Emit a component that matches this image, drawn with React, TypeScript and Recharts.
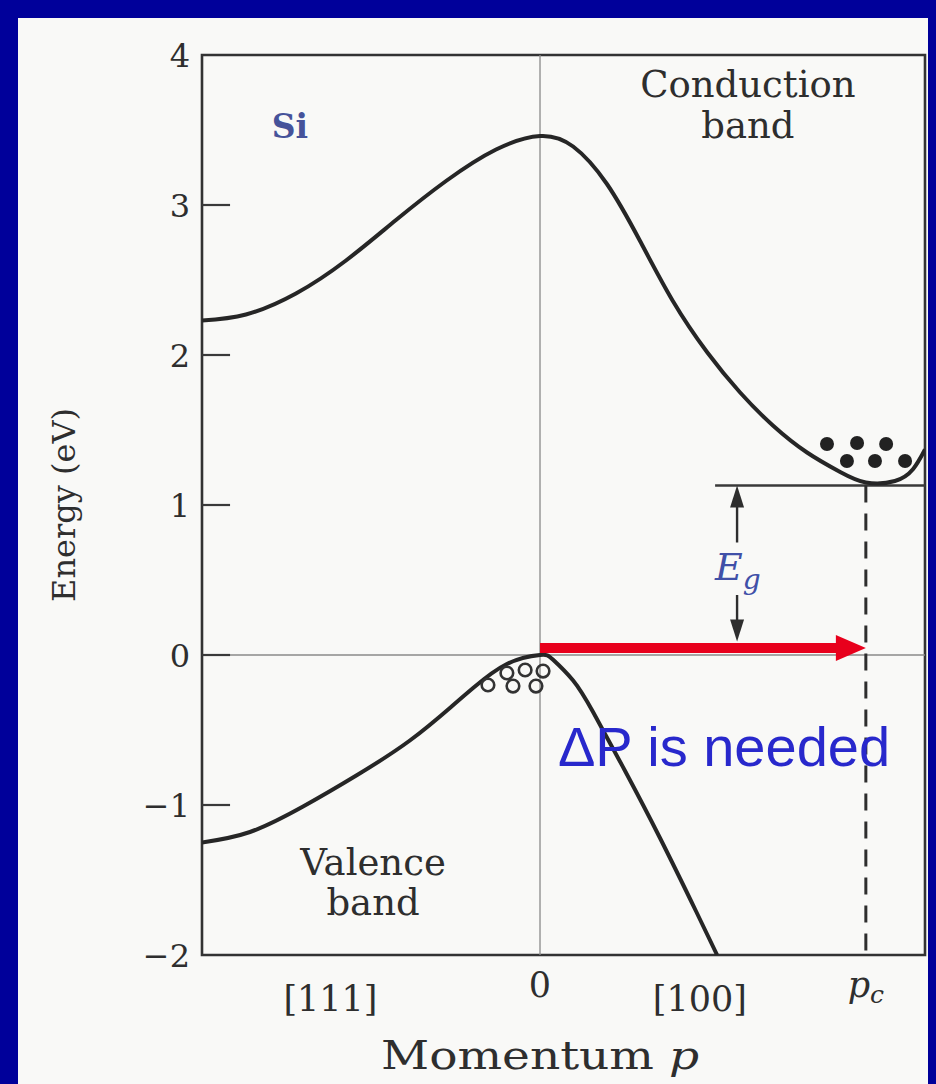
import React from 'react';
import {
  ComposedChart,
  Line,
  Scatter,
  XAxis,
  YAxis,
  ReferenceLine,
  ReferenceDot,
  ReferenceArea,
  Label,
} from 'recharts';

// ---- data (momentum in relative units, energy in eV) ----
const conductionMomentum = [-1.0, -0.87, -0.722, -0.574, -0.426, -0.278, -0.13, 0, 0.098, 0.198, 0.296, 0.393, 0.494, 0.592, 0.689, 0.79, 0.888, 0.964, 1.05, 1.104, 1.139];
const conductionEnergy = [2.23, 2.27, 2.41, 2.63, 2.9, 3.16, 3.37, 3.46, 3.39, 3.14, 2.76, 2.36, 2.02, 1.75, 1.53, 1.35, 1.22, 1.15, 1.16, 1.24, 1.37];

const valenceMomentum = [-1.0, -0.858, -0.701, -0.541, -0.385, -0.26, -0.198, -0.098, 0, 0.038, 0.098, 0.157, 0.251, 0.355, 0.462, 0.524];
const valenceEnergy = [-1.25, -1.18, -1.01, -0.8, -0.57, -0.34, -0.22, -0.06, 0, -0.03, -0.17, -0.38, -0.77, -1.22, -1.71, -2.0];

const electronMomentum = [0.849, 0.938, 1.024, 0.908, 0.991, 1.08];
const electronEnergy = [1.407, 1.413, 1.407, 1.293, 1.293, 1.293];

const holeMomentum = [-0.154, -0.098, -0.044, 0.009, -0.08, -0.012];
const holeEnergy = [-0.2, -0.12, -0.1, -0.107, -0.207, -0.207];

const yTicks = [-2, -1, 0, 1, 2, 3, 4];
const yTickLabels = ['\u22122', '\u22121', '0', '1', '2', '3', '4'];
const innerTickValues = [-1, 0, 1, 2, 3];

const xTicks = [-0.62, 0, 0.473, 0.964];
const xTickLabels = ['[111]', '0', '[100]', 'pc'];

const xDomain = [-1, 1.139];
const yDomain = [-2, 4];

const bandGap = 1.13;
const bandGapStart = 0.518;
const pc = 0.964;
const deltaPLevel = 0.047;
const deltaPLineEnd = 0.885;
const egArrowX = 0.583;
const egUpperEnd = 0.75;
const egLowerStart = 0.4;
const egLowerTip = 0.09;
const innerTickLength = 0.083;

const conduction = conductionMomentum.map((p, i) => ({ p, E: conductionEnergy[i] }));
const valence = valenceMomentum.map((p, i) => ({ p, E: valenceEnergy[i] }));
const electrons = electronMomentum.map((p, i) => ({ p, E: electronEnergy[i] }));
const holes = holeMomentum.map((p, i) => ({ p, E: holeEnergy[i] }));

const SERIF = '"DejaVu Serif", "Liberation Serif", serif';
const SANS = '"Liberation Sans", Arial, sans-serif';
const INK = '#2e2e2e';
const PAPER = '#f9f9f7';
const BORDER = '#00009a';

const YTick = (props: any) => {
  const { x, y, payload } = props;
  const idx = yTicks.indexOf(payload.value);
  return (
    <text x={x} y={y} dy="0.36em" textAnchor="end" fontFamily={SERIF} fontSize={32} fill={INK}>
      {yTickLabels[idx]}
    </text>
  );
};

const XTick = (props: any) => {
  const { x, y, payload } = props;
  const idx = xTicks.indexOf(payload.value);
  const label = xTickLabels[idx];
  if (label === 'pc') {
    return (
      <text x={x} y={y + 42} textAnchor="middle" fontFamily={SERIF} fontSize={35} fill={INK}>
        <tspan fontStyle="italic">p</tspan>
        <tspan fontStyle="italic" fontSize={25} dy={6}>c</tspan>
      </text>
    );
  }
  const dy = label === '0' ? 42 : 56;
  return (
    <text x={x} y={y + dy} textAnchor="middle" fontFamily={SERIF} fontSize={35} fill={INK}>
      {label}
    </text>
  );
};

const textShape = (lines: string[], opts: any) => (p: any) => (
  <text
    x={p.cx}
    y={p.cy}
    textAnchor={opts.anchor || 'middle'}
    fontFamily={opts.family || SERIF}
    fontSize={opts.size}
    fontWeight={opts.weight || 'normal'}
    fill={opts.color || INK}
  >
    {lines.map((l, i) => (
      <tspan key={i} x={p.cx} dy={i === 0 ? 0 : opts.lineGap}>
        {l}
      </tspan>
    ))}
  </text>
);

const egLabelShape = (p: any) => (
  <text x={p.cx} y={p.cy} fontFamily={SERIF} fill="#4050a8">
    <tspan fontStyle="italic" fontSize={38}>E</tspan>
    <tspan fontStyle="italic" fontSize={28} dy={9}>g</tspan>
  </text>
);

const momentumLabelShape = (p: any) => (
  <text
    x={p.cx}
    y={p.cy + 114}
    textAnchor="middle"
    fontFamily={SERIF}
    fontSize={40}
    textLength={318}
    lengthAdjust="spacingAndGlyphs"
    fill={INK}
  >
    Momentum <tspan fontStyle="italic">p</tspan>
  </text>
);

const redHead = (p: any) => (
  <polygon
    points={`${p.cx},${p.cy} ${p.cx - 30},${p.cy - 13} ${p.cx - 30},${p.cy + 13}`}
    fill="#e8001c"
  />
);

const upHead = (p: any) => (
  <polygon points={`${p.cx},${p.cy} ${p.cx - 7},${p.cy + 22} ${p.cx + 7},${p.cy + 22}`} fill={INK} />
);

const downHead = (p: any) => (
  <polygon points={`${p.cx},${p.cy} ${p.cx - 7},${p.cy - 22} ${p.cx + 7},${p.cy - 22}`} fill={INK} />
);

const electronShape = (p: any) => <circle cx={p.cx} cy={p.cy} r={7} fill="#222" />;
const holeShape = (p: any) => (
  <circle cx={p.cx} cy={p.cy} r={6.3} fill="none" stroke="#333" strokeWidth={2.6} />
);

export default function App() {
  return (
    <div
      style={{
        position: 'absolute',
        left: 0,
        top: 0,
        width: 936,
        height: 1084,
        background: BORDER,
        overflow: 'hidden',
      }}
    >
      <div
        style={{
          position: 'absolute',
          left: 18,
          top: 18,
          width: 910,
          height: 1066,
          background: PAPER,
        }}
      />
      <div style={{ position: 'absolute', left: 0, top: 0 }}>
        <ComposedChart width={936} height={1084} margin={{ top: 55, right: 11, bottom: 0, left: 122 }}>
          <XAxis
            type="number"
            dataKey="p"
            domain={xDomain}
            ticks={xTicks}
            tick={<XTick />}
            tickLine={false}
            axisLine={false}
            tickSize={0}
            tickMargin={0}
            height={129}
            interval={0}
            allowDataOverflow
          />
          <YAxis
            type="number"
            domain={yDomain}
            ticks={yTicks}
            tick={<YTick />}
            tickLine={false}
            axisLine={false}
            tickSize={0}
            tickMargin={12}
            width={80}
            interval={0}
            allowDataOverflow
          >
            <Label
              content={(props: any) => {
                const vb = props.viewBox;
                const cx = vb.x - 58;
                const cy = vb.y + vb.height / 2;
                return (
                  <text
                    x={cx}
                    y={cy}
                    transform={`rotate(-90 ${cx} ${cy})`}
                    textAnchor="middle"
                    dy="0.35em"
                    fontFamily={SERIF}
                    fontSize={32}
                    fill={INK}
                  >
                    Energy (eV)
                  </text>
                );
              }}
            />
          </YAxis>

          <ReferenceLine y={0} stroke="#8a8a8a" strokeWidth={1.3} />
          <ReferenceLine x={0} stroke="#8a8a8a" strokeWidth={1.3} />

          {innerTickValues.map((v) => (
            <ReferenceLine
              key={`t${v}`}
              segment={[
                { x: xDomain[0], y: v },
                { x: xDomain[0] + innerTickLength, y: v },
              ]}
              stroke="#3a3a3a"
              strokeWidth={2.2}
            />
          ))}

          <ReferenceLine
            segment={[
              { x: bandGapStart, y: bandGap },
              { x: xDomain[1], y: bandGap },
            ]}
            stroke="#3a3a3a"
            strokeWidth={2.6}
          />
          <ReferenceLine
            segment={[
              { x: pc, y: bandGap },
              { x: pc, y: yDomain[0] },
            ]}
            stroke="#2e2e2e"
            strokeWidth={3}
            strokeDasharray="17 11"
          />

          <ReferenceLine
            segment={[
              { x: egArrowX, y: bandGap - 0.1 },
              { x: egArrowX, y: egUpperEnd },
            ]}
            stroke={INK}
            strokeWidth={2.4}
          />
          <ReferenceLine
            segment={[
              { x: egArrowX, y: egLowerStart },
              { x: egArrowX, y: egLowerTip + 0.1 },
            ]}
            stroke={INK}
            strokeWidth={2.4}
          />
          <ReferenceDot x={egArrowX} y={bandGap} r={1} shape={upHead} />
          <ReferenceDot x={egArrowX} y={egLowerTip} r={1} shape={downHead} />

          <Line
            data={conduction}
            dataKey="E"
            type="natural"
            stroke="#262626"
            strokeWidth={4}
            dot={false}
            activeDot={false}
            isAnimationActive={false}
          />
          <Line
            data={valence}
            dataKey="E"
            type="natural"
            stroke="#262626"
            strokeWidth={4}
            dot={false}
            activeDot={false}
            isAnimationActive={false}
          />

          <Scatter data={electrons} dataKey="E" shape={electronShape} isAnimationActive={false} />
          <Scatter data={holes} dataKey="E" shape={holeShape} isAnimationActive={false} />

          <ReferenceLine
            segment={[
              { x: 0, y: deltaPLevel },
              { x: deltaPLineEnd, y: deltaPLevel },
            ]}
            stroke="#e8001c"
            strokeWidth={10}
          />
          <ReferenceDot x={pc} y={deltaPLevel} r={1} shape={redHead} />

          <ReferenceArea
            x1={xDomain[0]}
            x2={xDomain[1]}
            y1={yDomain[0]}
            y2={yDomain[1]}
            fill="none"
            stroke="#333"
            strokeWidth={2.6}
          />

          <ReferenceDot x={-0.74} y={3.447} r={1} shape={textShape(['Si'], { size: 33, color: '#46539a', weight: 'bold' })} />
          <ReferenceDot x={0.615} y={3.72} r={1} shape={textShape(['Conduction', 'band'], { size: 37, lineGap: 41 })} />
          <ReferenceDot x={-0.494} y={-1.467} r={1} shape={textShape(['Valence', 'band'], { size: 37, lineGap: 40 })} />
          <ReferenceDot
            x={0.053}
            y={-0.74}
            r={1}
            shape={textShape(['\u0394P is needed'], { size: 56, anchor: 'start', family: SANS, color: '#2828cc' })}
          />
          <ReferenceDot x={bandGapStart} y={0.5} r={1} shape={egLabelShape} />
          <ReferenceDot x={0} y={yDomain[0]} r={1} shape={momentumLabelShape} />
        </ComposedChart>
      </div>
    </div>
  );
}
